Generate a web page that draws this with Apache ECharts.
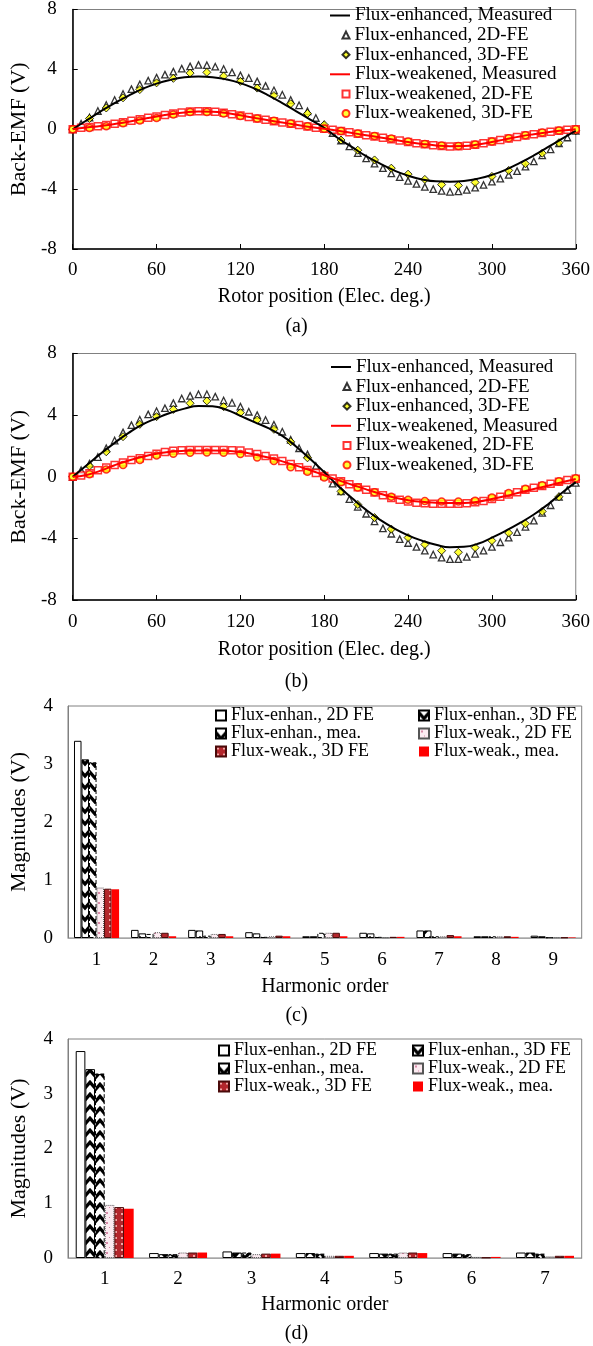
<!DOCTYPE html>
<html><head><meta charset="utf-8">
<script src="https://cdn.jsdelivr.net/npm/echarts@6/dist/echarts.min.js"></script>
<style>html,body{margin:0;padding:0;background:#fff}#main{width:593px;height:1346px}</style>
</head><body><div id="main"></div>
<script>
// ---------- DATA ----------
const angles10 = [0,10,20,30,40,50,60,70,80,90,100,110,120,130,140,150,160,170,180,190,200,210,220,230,240,250,260,270,280,290,300,310,320,330,340,350,360];
const angles6 = [0,6,12,18,24,30,36,42,48,54,60,66,72,78,84,90,96,102,108,114,120,126,132,138,144,150,156,162,168,174,180,186,192,198,204,210,216,222,228,234,240,246,252,258,264,270,276,282,288,294,300,306,312,318,324,330,336,342,348,354,360];
const angles12 = [0,12,24,36,48,60,72,84,96,108,120,132,144,156,168,180,192,204,216,228,240,252,264,276,288,300,312,324,336,348,360];

// Panel (a)
const enhMeasA = [0,0.6,1.2,1.75,2.25,2.7,3.05,3.3,3.47,3.52,
  3.48,3.33,3.08,2.72,2.27,1.75,1.2,0.65,0.1,-0.6,
  -1.2,-1.8,-2.3,-2.75,-3.1,-3.35,-3.48,-3.5,-3.45,-3.3,
  -3.05,-2.7,-2.25,-1.75,-1.2,-0.65,-0.1];
const enh2dA = [0,0.37,0.78,1.22,1.62,1.95,2.35,2.68,3.0,3.25,
  3.45,3.65,3.85,4.05,4.2,4.3,4.28,4.18,4.02,3.8,
  3.6,3.42,3.2,2.9,2.6,2.3,1.95,1.6,1.2,0.75,
  0.3,-0.25,-0.75,-1.15,-1.6,-1.95,-2.3,-2.6,-2.95,-3.2,
  -3.45,-3.65,-3.85,-4.0,-4.12,-4.18,-4.15,-4.05,-3.9,-3.72,
  -3.5,-3.3,-3.05,-2.8,-2.5,-2.15,-1.75,-1.35,-0.95,-0.55,
  -0.1];
const enh3dA = [0,0.72,1.42,2.1,2.65,3.1,3.4,3.75,3.8,3.55,
  3.2,2.75,2.25,1.7,1.05,0.3,-0.72,-1.4,-2.05,-2.6,
  -3.0,-3.35,-3.7,-3.75,-3.55,-3.15,-2.75,-2.3,-1.6,-0.9,
  -0.1];
const weakMeasA = [0,0.12,0.22,0.35,0.5,0.68,0.85,1.0,1.12,1.18,
  1.17,1.08,0.93,0.76,0.6,0.45,0.3,0.15,0.03,-0.1,
  -0.25,-0.4,-0.55,-0.7,-0.85,-0.98,-1.08,-1.13,-1.12,-1.02,
  -0.85,-0.66,-0.48,-0.33,-0.2,-0.09,0.0];
const weak2dA = [0,0.1,0.15,0.2,0.28,0.37,0.46,0.56,0.67,0.76,
  0.85,0.95,1.05,1.12,1.18,1.21,1.2,1.17,1.11,1.01,
  0.92,0.82,0.72,0.63,0.53,0.45,0.36,0.28,0.18,0.1,
  0.03,-0.03,-0.12,-0.2,-0.3,-0.4,-0.48,-0.57,-0.66,-0.75,
  -0.85,-0.93,-1.0,-1.07,-1.12,-1.15,-1.14,-1.1,-1.04,-0.94,
  -0.82,-0.72,-0.62,-0.52,-0.42,-0.33,-0.25,-0.17,-0.1,-0.04,
  0.0];
const weak3dA = [0,0.08,0.2,0.4,0.58,0.75,0.98,1.15,1.15,1.05,
  0.88,0.72,0.57,0.38,0.2,0.03,-0.12,-0.28,-0.45,-0.62,
  -0.82,-0.98,-1.08,-1.12,-1.02,-0.82,-0.6,-0.4,-0.22,-0.08,
  0.0];

// Panel (b)
const enhMeasB = [0,0.75,1.5,2.2,2.85,3.4,3.8,4.15,4.42,4.6,
  4.57,4.35,3.95,3.55,3.15,2.65,1.95,1.15,0.3,-0.6,
  -1.4,-2.15,-2.8,-3.35,-3.8,-4.15,-4.42,-4.58,-4.55,-4.35,
  -3.95,-3.5,-3.0,-2.45,-1.8,-1.05,-0.35];
const enh2dB = [0,0.42,0.85,1.28,1.85,2.35,2.88,3.35,3.7,4.05,
  4.25,4.45,4.78,5.08,5.25,5.35,5.35,5.2,4.95,4.8,
  4.55,4.22,4.0,3.68,3.38,2.92,2.4,1.85,1.45,0.7,
  0.1,-0.45,-0.95,-1.45,-1.95,-2.4,-2.9,-3.35,-3.7,-4.05,
  -4.3,-4.55,-4.8,-5.05,-5.25,-5.35,-5.35,-5.2,-5.0,-4.8,
  -4.55,-4.25,-3.95,-3.6,-3.25,-2.85,-2.35,-1.85,-1.3,-0.86,
  -0.4];
const enh3dB = [0,0.7,1.62,2.6,3.4,3.9,4.37,4.77,4.92,4.55,
  4.16,3.68,3.08,2.27,1.23,0.15,-0.95,-1.8,-2.65,-3.4,
  -3.95,-4.4,-4.8,-4.9,-4.6,-4.15,-3.65,-3.05,-2.25,-1.3,
  -0.2];
const weakMeasB = [0,0.12,0.4,0.75,1.05,1.3,1.5,1.62,1.68,1.7,
  1.7,1.68,1.6,1.45,1.25,1.0,0.72,0.42,0.1,-0.22,
  -0.52,-0.82,-1.1,-1.35,-1.52,-1.63,-1.68,-1.7,-1.7,-1.62,
  -1.45,-1.25,-1.02,-0.8,-0.58,-0.36,-0.15];
const weak2dB = [0,0.08,0.22,0.42,0.6,0.77,0.93,1.08,1.2,1.34,
  1.5,1.6,1.68,1.72,1.74,1.74,1.74,1.74,1.74,1.72,
  1.7,1.58,1.47,1.34,1.19,1.02,0.82,0.62,0.44,0.24,
  0.05,-0.12,-0.3,-0.48,-0.68,-0.85,-1.02,-1.2,-1.38,-1.5,
  -1.6,-1.68,-1.72,-1.75,-1.76,-1.76,-1.76,-1.72,-1.65,-1.58,
  -1.45,-1.3,-1.15,-1.0,-0.85,-0.72,-0.6,-0.45,-0.33,-0.21,
  -0.13];
const weak3dB = [0,0.17,0.47,0.76,1.08,1.38,1.5,1.56,1.57,1.56,
  1.47,1.25,1.02,0.62,0.33,-0.05,-0.35,-0.7,-1.0,-1.3,
  -1.5,-1.58,-1.6,-1.6,-1.55,-1.35,-1.05,-0.78,-0.55,-0.3,
  -0.1];

// Panel (c)
const harmC = ['1','2','3','4','5','6','7','8','9'];
const enh2dC  = [3.40,0.14,0.14,0.10,0.03,0.09,0.13,0.03,0.04];
const enh3dC  = [3.08,0.08,0.13,0.08,0.03,0.08,0.13,0.03,0.03];
const enhMeaC = [3.03,0.07,0.04,0.02,0.09,0.02,0.03,0.03,0.01];
const weak2dC = [0.87,0.10,0.07,0.03,0.09,0.01,0.03,0.03,0.01];
const weak3dC = [0.85,0.09,0.07,0.04,0.09,0.02,0.05,0.03,0.01];
const weakMeaC= [0.84,0.03,0.03,0.03,0.03,0.02,0.03,0.02,0.01];

// Panel (d)
const harmD = ['1','2','3','4','5','6','7'];
const enh2dD  = [3.78,0.09,0.12,0.09,0.09,0.09,0.10];
const enh3dD  = [3.45,0.07,0.10,0.09,0.08,0.08,0.10];
const enhMeaD = [3.37,0.07,0.10,0.08,0.08,0.07,0.08];
const weak2dD = [0.97,0.10,0.07,0.04,0.10,0.02,0.03];
const weak3dD = [0.93,0.10,0.08,0.04,0.10,0.01,0.04];
const weakMeaD= [0.90,0.10,0.08,0.04,0.09,0.02,0.04];

const lineNames = ['Flux-enhanced, Measured','Flux-enhanced, 2D-FE','Flux-enhanced, 3D-FE',
  'Flux-weakened, Measured','Flux-weakened, 2D-FE','Flux-weakened, 3D-FE'];
const barNames = ['Flux-enhan., 2D FE','Flux-enhan., 3D FE','Flux-enhan., mea.',
  'Flux-weak., 2D FE','Flux-weak., 3D FE','Flux-weak., mea.'];
const captions = ['(a)','(b)','(c)','(d)'];

// ---------- STYLE HELPERS ----------
const FONT = 'Liberation Serif';
function zip(xs, ys){ return xs.map((x,i)=>[x, ys[i]]); }
function makePattern(w,h,draw){
  const c=document.createElement('canvas'); c.width=w; c.height=h;
  const g=c.getContext('2d'); draw(g); return {image:c, repeat:'repeat'};
}
const chevron = makePattern(10,12,g=>{
  g.fillStyle='#fff'; g.fillRect(0,0,10,12);
  g.strokeStyle='#000'; g.lineWidth=3.2; g.beginPath();
  g.moveTo(-1,1); g.lineTo(5,8); g.lineTo(11,1); g.stroke();
});
const chevron2 = makePattern(10,12,g=>{
  g.fillStyle='#fff'; g.fillRect(0,0,10,12);
  g.strokeStyle='#000'; g.lineWidth=3.2; g.beginPath();
  g.moveTo(-1,3); g.lineTo(5,10); g.lineTo(11,3); g.stroke();
});
const pinkPat = makePattern(8,10,g=>{
  g.fillStyle='#fcebf1'; g.fillRect(0,0,8,10);
  g.fillStyle='#d98aa8'; g.fillRect(2,2,2,2); g.fillRect(5,7,1,1);
});
const redPat = makePattern(6,6,g=>{
  g.fillStyle='#b3262c'; g.fillRect(0,0,6,6);
  g.fillStyle='#f2a6a6'; g.fillRect(1,1,2,2);
});

const grids = [
  {left:65.7, top:2.5, width:513, height:246.5},
  {left:63.3, top:353.5, width:515, height:246.5},
  {left:65.7, top:706, width:516, height:232},
  {left:65.7, top:1039, width:516, height:219}
].map(g=>Object.assign({show:true, borderColor:'#808080', borderWidth:1, containLabel:false}, g));

const tickFont = {fontSize:19, fontFamily:FONT, color:'#000'};
const nameFontX = {fontSize:20, fontFamily:FONT, color:'#000'};
const nameFontY = {fontSize:22, fontFamily:FONT, color:'#000'};

const xAxes = [], yAxes = [];
[[0,12,38],[1,13,40]].forEach(([i,lm,ng])=>{
  xAxes.push({type:'value', gridIndex:i, min:0, max:360, interval:60,
    axisLine:{onZero:false, lineStyle:{color:'#000', width:1.5}},
    axisTick:{inside:true, length:5, lineStyle:{color:'#000'}},
    splitLine:{show:false}, axisLabel:Object.assign({margin:lm}, tickFont),
    name:'Rotor position (Elec. deg.)', nameLocation:'middle', nameGap:ng, nameTextStyle:nameFontX});
  yAxes.push({type:'value', gridIndex:i, min:-8, max:8, interval:4,
    axisLine:{show:true, onZero:false, lineStyle:{color:'#000', width:1.5}},
    axisTick:{show:true, inside:true, length:5, lineStyle:{color:'#000'}},
    splitLine:{show:false}, axisLabel:Object.assign({margin:16}, tickFont),
    name:'Back-EMF (V)', nameLocation:'middle', nameGap:38, nameTextStyle:nameFontY});
});
[[2,harmC,13,39],[3,harmD,12,37]].forEach(([i,cats,lm,ng])=>{
  xAxes.push({type:'category', gridIndex:i, data:cats,
    axisLine:{lineStyle:{color:'#a6a6a6', width:1.2}}, axisTick:{show:false},
    axisLabel:Object.assign({margin:lm}, tickFont),
    name:'Harmonic order', nameLocation:'middle', nameGap:ng, nameTextStyle:nameFontX});
  yAxes.push({type:'value', gridIndex:i, min:0, max:4, interval:1,
    axisLine:{show:true, lineStyle:{color:'#808080'}}, axisTick:{show:false},
    splitLine:{show:false}, axisLabel:Object.assign({margin:15}, tickFont),
    name:'Magnitudes (V)', nameLocation:'middle', nameGap:38, nameTextStyle:nameFontY});
});

function lineSeries(idx, d){
  return [
    {name:lineNames[0], type:'line', xAxisIndex:idx, yAxisIndex:idx, smooth:true, symbol:'none',
      lineStyle:{color:'#000', width:2}, itemStyle:{color:'#000'}, data:zip(angles10,d[0])},
    {name:lineNames[1], type:'scatter', xAxisIndex:idx, yAxisIndex:idx, symbol:'triangle', symbolSize:6.5,
      itemStyle:{color:'#fff', borderColor:'#000', borderWidth:1.3}, data:zip(angles6,d[1])},
    {name:lineNames[2], type:'scatter', xAxisIndex:idx, yAxisIndex:idx, symbol:'diamond', symbolSize:8,
      itemStyle:{color:'#ffff00', borderColor:'#000', borderWidth:1}, data:zip(angles12,d[2])},
    {name:lineNames[3], type:'line', xAxisIndex:idx, yAxisIndex:idx, smooth:true, symbol:'none',
      lineStyle:{color:'#ff0000', width:2}, itemStyle:{color:'#ff0000'}, data:zip(angles10,d[3])},
    {name:lineNames[4], type:'scatter', xAxisIndex:idx, yAxisIndex:idx, symbol:'rect', symbolSize:7,
      itemStyle:{color:'#fff', borderColor:'#ff0000', borderWidth:1.5}, data:zip(angles6,d[4])},
    {name:lineNames[5], type:'scatter', xAxisIndex:idx, yAxisIndex:idx, symbol:'circle', symbolSize:7,
      itemStyle:{color:'#ffff00', borderColor:'#ff0000', borderWidth:1.5}, data:zip(angles12,d[5])}
  ];
}
const barStyles = [
  {color:'#fff', borderColor:'#000', borderWidth:1},
  {color:chevron, borderColor:'#000', borderWidth:1},
  {color:chevron2, borderColor:'#000', borderWidth:1, borderType:'dashed'},
  {color:pinkPat, borderColor:'#555', borderWidth:1, borderType:'dotted'},
  {color:redPat, borderColor:'#4a0a0a', borderWidth:1},
  {color:'#ff0000'}
];
function barSeries(idx, d){
  return d.map((vals,k)=>({name:barNames[k], type:'bar', xAxisIndex:idx, yAxisIndex:idx,
    barGap:'0%', barCategoryGap:'21%', itemStyle:barStyles[k], data:vals}));
}

const series = [].concat(
  lineSeries(0,[enhMeasA,enh2dA,enh3dA,weakMeasA,weak2dA,weak3dA]),
  lineSeries(1,[enhMeasB,enh2dB,enh3dB,weakMeasB,weak2dB,weak3dB]),
  barSeries(2,[enh2dC,enh3dC,enhMeaC,weak2dC,weak3dC,weakMeaC]),
  barSeries(3,[enh2dD,enh3dD,enhMeaD,weak2dD,weak3dD,weakMeaD])
);

// one legend component per row for the line charts (line items vs. marker items)
function lineLegendRows(textLeft, firstCenter, step){
  return lineNames.map((nm,k)=>{
    const isLine = (k===0 || k===3);
    const top = firstCenter + step*k - 9.8;
    const base = {orient:'vertical', top, padding:0, itemGap:0, selectedMode:false, data:[nm],
      textStyle:{fontSize:19, fontFamily:FONT, color:'#000', lineHeight:19.6}};
    if (isLine) return Object.assign(base, {left:textLeft-25, itemWidth:20, itemHeight:2,
      icon:'rect', itemTextGap:2});
    return Object.assign(base, {left:textLeft-13.5, itemWidth:7, itemHeight:7, itemTextGap:8.5});
  });
}
const barLegend = (left, top, names, gap)=>({orient:'vertical', left, top, padding:0, itemGap:0,
  itemWidth:10, itemHeight:10, itemTextGap:gap, selectedMode:false, data:names, icon:'rect',
  textStyle:{fontSize:18, fontFamily:FONT, color:'#000', lineHeight:16.5}});

const capTops = [317, 672, 1006, 1324];
const option = {
  animation:false,
  backgroundColor:'#fff',
  title: captions.map((t,i)=>({text:t, left:'center', top:capTops[i], padding:0,
    textStyle:{fontSize:20, fontWeight:'normal', fontFamily:FONT, color:'#000'}})),
  grid: grids,
  xAxis: xAxes,
  yAxis: yAxes,
  legend: [].concat(
    lineLegendRows(355, 15.5, 19.6),
    lineLegendRows(356, 367, 19.6),
    [
      barLegend(215, 706.5, [barNames[0],barNames[2],barNames[4]], 3),
      barLegend(418, 706.5, [barNames[1],barNames[3],barNames[5]], 2),
      barLegend(218, 1041.5, [barNames[0],barNames[2],barNames[4]], 4),
      barLegend(412, 1041.5, [barNames[1],barNames[3],barNames[5]], 3)
    ]),
  series
};
const chart = echarts.init(document.getElementById('main'), null, {renderer:'canvas'});
chart.setOption(option);
</script>
</body></html>
